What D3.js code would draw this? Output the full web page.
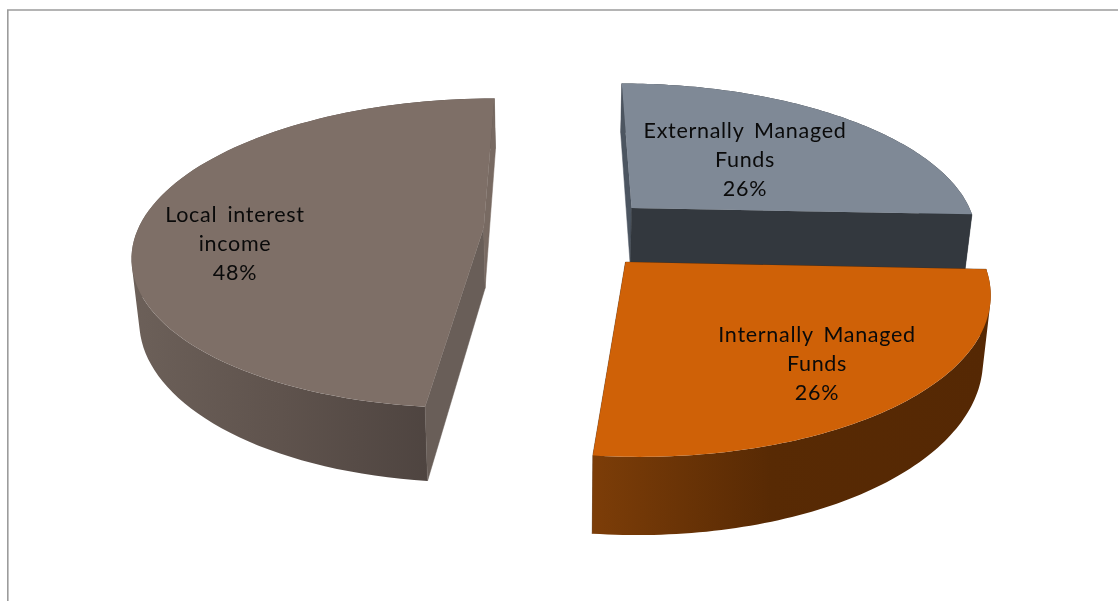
<!DOCTYPE html>
<html>
<head>
<meta charset="utf-8">
<script src="https://cdn.jsdelivr.net/npm/d3@7"></script>
<style>
html,body{margin:0;padding:0;background:#fff;overflow:hidden}
svg{display:block}
text{font-family:Lato,"Open Sans",sans-serif;fill:#0a0a0a}
</style>
</head>
<body>
<svg id="chart" width="1118" height="601"></svg>
<script>
// Data
const categories = ["Externally Managed Funds", "Internally Managed Funds", "Local interest income"];
const values = [25.7, 26.0, 48.3];
const labelLines = [["Externally Managed", "Funds"], ["Internally Managed", "Funds"], ["Local interest", "income"]];
const topColors = ["#7f8996", "#cf6107", "#7e6f67"];

// Layout and camera
const W = 1118, H = 601;
const vanishX = 560, horizonY = -700, refScale = 930, radius = 346, depthK = 1.75e-4;
const wallScaleX = 0.982, wallHeight = 59, wallRef = 913, wallPow = 1.19;
const explode = [{x: 0.212, z: -0.149}, {x: 0.183, z: 0.205}, {x: -0.221, z: -0.013}];
const labelAt = [{x: 745, y: 138}, {x: 817, y: 342}, {x: 235, y: 222}];
const lineGap = 29;
const wallStops = [
  [{o: 0, c: "#33383e"}, {o: 1, c: "#33383e"}],
  [{o: 0, c: "#7c3d08"}, {o: 0.45, c: "#582a04"}, {o: 1, c: "#552804"}],
  [{o: 0, c: "#6c6059"}, {o: 0.5, c: "#5f534d"}, {o: 1, c: "#4e4440"}]
];
const wallBounds = [[630, 971], [593, 988], [132, 430]];
const faceColors = [
  {start: "#4c5560", end: "#33383e"},
  {start: "#552804", end: "#552804"},
  {start: "#695e58", end: "#786a62"}
];
const facesBehindWall = [false, true, false];

// Project a pie-plane point (x right, z toward viewer, in radius units) to the screen
function project(x, z) {
  const s = 1 / (1 / refScale - z * depthK);
  return [vanishX + x * radius * s / refScale, horizonY + s];
}
function drop(p) {
  const s = p[1] - horizonY;
  return [vanishX + (p[0] - vanishX) * wallScaleX, p[1] + wallHeight * Math.pow(s / wallRef, wallPow)];
}

const svg = d3.select("#chart");
const defs = svg.append("defs");
const line = d3.line();
const closed = pts => line(pts) + "Z";
// Same winding for every quad, so overlaps cannot cancel under the nonzero rule
const wound = pts => d3.polygonArea(pts) < 0 ? pts.slice().reverse() : pts;

defs.append("filter").attr("id", "soft").attr("x", "-5%").attr("y", "-5%").attr("width", "110%").attr("height", "110%")
  .attr("color-interpolation-filters", "sRGB")
  .append("feGaussianBlur").attr("stdDeviation", 0.6);
defs.append("filter").attr("id", "softText").attr("x", "-5%").attr("y", "-5%").attr("width", "110%").attr("height", "110%")
  .attr("color-interpolation-filters", "sRGB")
  .append("feGaussianBlur").attr("stdDeviation", 0.35);

svg.append("path").attr("d", line([[7.8, H], [7.8, 10], [W, 10]]))
  .attr("fill", "none").attr("stroke", "#9c9c9c").attr("stroke-width", 1.6);

const arcs = d3.pie().sort(null)(values);
const order = [0, 2, 1];

order.forEach(i => {
  const a = arcs[i], c = explode[i];
  const n = 90;
  const ring = d3.range(n + 1).map(k => {
    const t = a.startAngle + (a.endAngle - a.startAngle) * k / n;
    return project(c.x + Math.sin(t), c.z - Math.cos(t));
  });
  const apex = project(c.x, c.z);
  const ringB = ring.map(drop);
  const apexB = drop(apex);
  const g = svg.append("g").attr("class", "slice").attr("data-name", categories[i]).attr("filter", "url(#soft)");

  const grad = defs.append("linearGradient").attr("id", "wall" + i)
    .attr("gradientUnits", "userSpaceOnUse")
    .attr("x1", wallBounds[i][0]).attr("x2", wallBounds[i][1]).attr("y1", 0).attr("y2", 0);
  grad.selectAll("stop").data(wallStops[i]).join("stop")
    .attr("offset", d => d.o).attr("stop-color", d => d.c);

  const drawWall = () => g.append("path")
    .attr("d", d3.range(n).map(k => closed(wound([ring[k], ring[k + 1], ringB[k + 1], ringB[k]]))).join(""))
    .attr("fill", `url(#wall${i})`).attr("fill-rule", "nonzero");
  const drawFaces = () => {
    g.append("path").attr("d", closed([ring[0], apex, apexB, ringB[0]]))
      .attr("fill", faceColors[i].start).attr("stroke", faceColors[i].start).attr("stroke-width", 0.5);
    g.append("path").attr("d", closed([ring[n], apex, apexB, ringB[n]]))
      .attr("fill", faceColors[i].end).attr("stroke", faceColors[i].end).attr("stroke-width", 0.5);
  };
  if (facesBehindWall[i]) { drawFaces(); drawWall(); } else { drawWall(); drawFaces(); }
  g.append("path").attr("d", closed([apex].concat(ring)))
    .attr("fill", topColors[i]);
});

order.forEach(i => {
  const rows = labelLines[i].concat([Math.round(values[i]) + "%"]);
  const t = svg.append("text").attr("text-anchor", "middle").attr("font-size", 21.5).attr("filter", "url(#softText)");
  t.selectAll("tspan").data(rows).join("tspan")
    .attr("x", labelAt[i].x)
    .attr("y", (d, k) => labelAt[i].y + k * lineGap)
    .attr("letter-spacing", 0.7)
    .attr("word-spacing", 4)
    .text(d => d);
});
</script>
</body>
</html>
